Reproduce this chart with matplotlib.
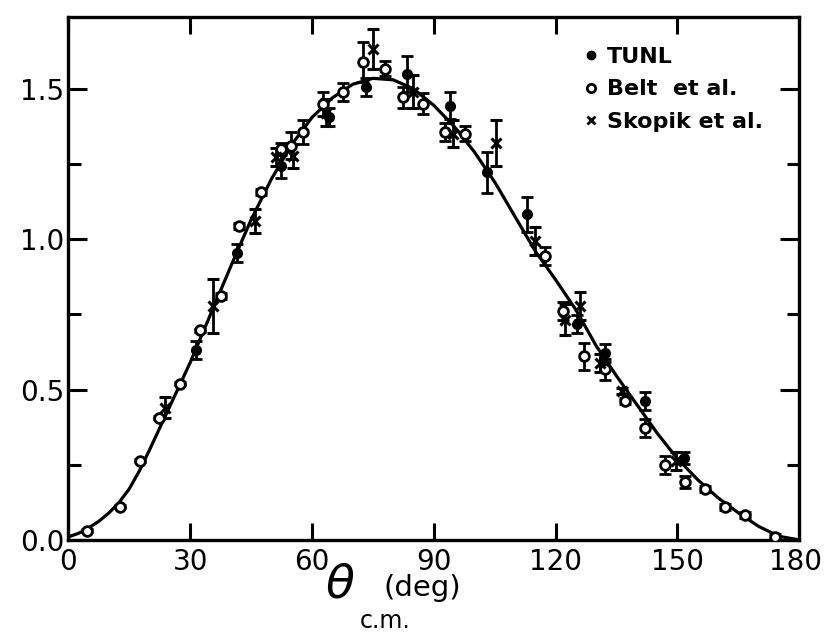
import matplotlib
matplotlib.use("Agg")
import matplotlib.pyplot as plt
import matplotlib.transforms as mtransforms
from matplotlib.lines import Line2D

# fitted curve
curve_theta = [0, 2.5, 5, 7.5, 10, 12.5, 15, 17.5, 20, 25, 30, 35, 40, 45, 50,
               55, 60, 65, 70, 75, 80, 85, 90, 95, 100, 105, 110, 115, 120,
               125, 130, 135, 140, 145, 150, 155, 160, 165, 170, 175, 180]
curve_val = [0.01, 0.022, 0.04, 0.062, 0.09, 0.125, 0.17, 0.23, 0.30, 0.445,
             0.59, 0.75, 0.91, 1.065, 1.20, 1.315, 1.405, 1.47, 1.515, 1.535,
             1.53, 1.50, 1.445, 1.375, 1.29, 1.19, 1.075, 0.96, 0.865, 0.765,
             0.645, 0.545, 0.45, 0.355, 0.27, 0.20, 0.14, 0.09, 0.045, 0.012,
             0.0]

tunl_theta = [31.5, 41.5, 52.4, 64.2, 73.2, 83.3, 93.9, 103.0, 112.9, 125.3,
              132.1, 141.9, 151.5]
tunl_val = [0.633, 0.955, 1.244, 1.406, 1.506, 1.55, 1.444, 1.222, 1.083,
            0.717, 0.622, 0.461, 0.272]
tunl_err = [0.03, 0.03, 0.04, 0.03, 0.03, 0.06, 0.045, 0.067, 0.058, 0.03,
            0.03, 0.03, 0.02]

belt_theta = [4.7, 12.8, 17.6, 22.2, 27.4, 32.3, 37.5, 42.0, 47.5, 52.4, 54.9,
              57.9, 62.7, 67.6, 72.6, 77.9, 82.4, 87.4, 92.7, 97.6, 117.4,
              121.9, 127.0, 132.1, 137.1, 141.9, 146.9, 151.9, 156.8, 161.7,
              166.7, 174.1]
belt_val = [0.031, 0.111, 0.263, 0.406, 0.519, 0.697, 0.811, 1.044, 1.156,
            1.30, 1.311, 1.358, 1.45, 1.49, 1.59, 1.567, 1.472, 1.45, 1.356,
            1.35, 0.944, 0.761, 0.611, 0.567, 0.461, 0.372, 0.25, 0.194,
            0.169, 0.111, 0.083, 0.011]
belt_err = [0.005, 0.005, 0.005, 0.005, 0.005, 0.005, 0.01, 0.01, 0.01, 0.02,
            0.045, 0.04, 0.04, 0.03, 0.067, 0.025, 0.035, 0.035, 0.03, 0.025,
            0.03, 0.03, 0.045, 0.035, 0.01, 0.03, 0.03, 0.02, 0.01, 0.01,
            0.01, 0.01]

skop_theta = [23.8, 35.6, 45.9, 51.2, 55.3, 63.5, 75.0, 84.9, 94.8, 105.4,
              114.9, 122.3, 126.0, 130.9, 136.3, 149.7]
skop_val = [0.44, 0.778, 1.061, 1.272, 1.278, 1.42, 1.633, 1.49, 1.35, 1.32,
            0.994, 0.733, 0.778, 0.589, 0.494, 0.261]
skop_err = [0.035, 0.089, 0.04, 0.03, 0.04, 0.045, 0.067, 0.055, 0.045, 0.075,
            0.045, 0.05, 0.045, 0.03, 0.01, 0.03]

labels = ["TUNL", "Belt  et al.", "Skopik et al."]

fig = plt.figure(figsize=(8.24, 6.42), dpi=100)
ax = fig.add_axes([0.083, 0.159, 0.887, 0.815])

ax.plot(curve_theta, curve_val, color="black", lw=2.3, zorder=2)

eb = dict(ls="none", color="black", ecolor="black", elinewidth=2,
          capsize=4, capthick=2, zorder=3)
ax.errorbar(belt_theta, belt_val, yerr=belt_err, fmt="o", ms=7,
            mfc="white", mec="black", mew=2, **eb)
ax.errorbar(tunl_theta, tunl_val, yerr=tunl_err, fmt="o", ms=7,
            mfc="black", mec="black", **eb)
ax.errorbar(skop_theta, skop_val, yerr=skop_err, fmt="x", ms=7,
            mec="black", mew=2.2, **eb)

ax.set_xlim(0, 180)
ax.set_ylim(0, 1.74)
ax.set_xticks([0, 30, 60, 90, 120, 150, 180])
ax.set_yticks([0.0, 0.5, 1.0, 1.5])
ax.set_yticks([0.25, 0.75, 1.25], minor=True)
ax.set_yticklabels(["0.0", "0.5", "1.0", "1.5"])
ax.tick_params(axis="both", which="both", direction="in", top=True,
               right=True, width=2.2, labelsize=20)
ax.tick_params(axis="y", which="major", length=14, pad=3)
ax.tick_params(axis="y", which="minor", length=9)
ax.tick_params(axis="x", which="major", length=12, pad=6)
for s in ax.spines.values():
    s.set_linewidth(2.4)

# nudge the last x label so it stays inside the figure
last = ax.get_xticklabels()[-1]
last.set_transform(last.get_transform() +
                   mtransforms.ScaledTranslation(-4 / 100, 0, fig.dpi_scale_trans))

handles = [
    Line2D([], [], ls="none", marker="o", ms=6, mfc="black", mec="black"),
    Line2D([], [], ls="none", marker="o", ms=6, mfc="white", mec="black", mew=2),
    Line2D([], [], ls="none", marker="x", ms=6, mec="black", mew=2),
]
ax.legend(handles, labels, loc="upper left", bbox_to_anchor=(0.68, 0.98),
          frameon=False, handlelength=0.5, handletextpad=0.45,
          labelspacing=0.55, prop={"size": 16, "weight": "bold"})

fig.text(0.395, 0.07, r"$\theta$", fontsize=34, ha="left", va="baseline")
fig.text(0.437, 0.022, "c.m.", fontsize=17, ha="left", va="baseline")
fig.text(0.466, 0.072, "(deg)", fontsize=21, ha="left", va="baseline")

fig.savefig("out.png", dpi=100)
